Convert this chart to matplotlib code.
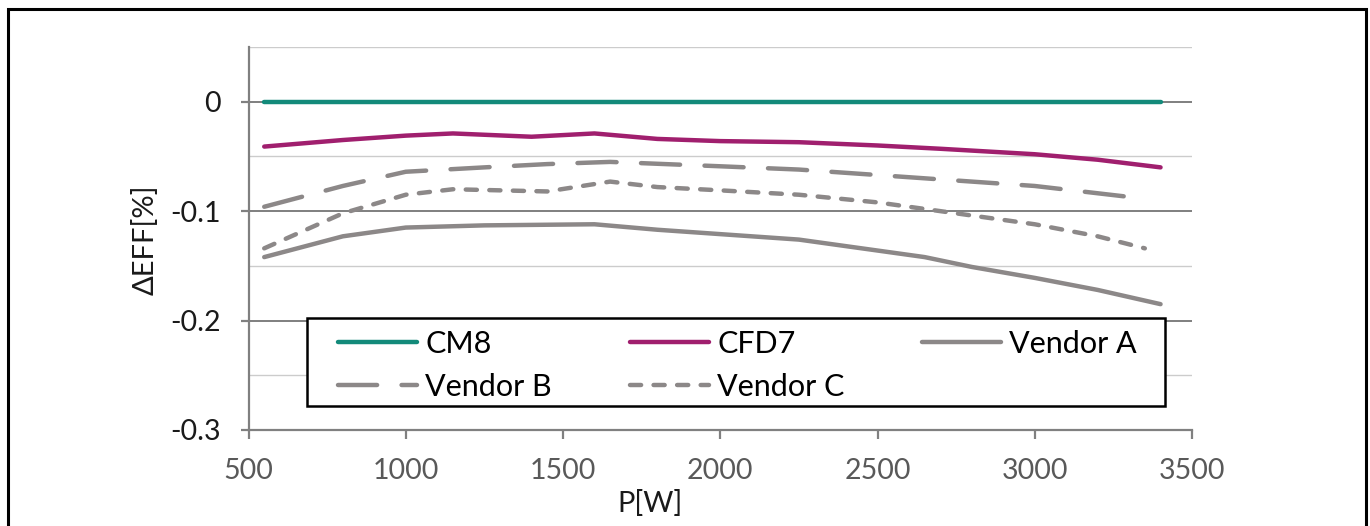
import matplotlib
matplotlib.use("Agg")
import matplotlib.pyplot as plt
from matplotlib.patches import Rectangle

plt.rcParams['font.family'] = ['Lato', 'DejaVu Sans']

# ---- data ----
p_cm8 = [550, 3400]
cm8 = [0.0, 0.0]

p_cfd7 = [550, 800, 1000, 1150, 1400, 1600, 1800, 2000, 2250, 2500, 2700, 3000, 3200, 3400]
cfd7 = [-0.041, -0.035, -0.031, -0.029, -0.032, -0.029, -0.034, -0.036, -0.037, -0.040, -0.043, -0.048, -0.053, -0.060]

p_va = [550, 800, 1000, 1250, 1600, 1800, 2000, 2250, 2500, 2650, 2800, 3000, 3200, 3400]
vendor_a = [-0.142, -0.123, -0.115, -0.113, -0.112, -0.117, -0.121, -0.126, -0.136, -0.142, -0.151, -0.161, -0.172, -0.185]

p_vb = [550, 800, 1000, 1250, 1450, 1650, 2000, 2250, 2500, 2700, 3000, 3300]
vendor_b = [-0.096, -0.077, -0.064, -0.060, -0.057, -0.055, -0.059, -0.062, -0.067, -0.071, -0.077, -0.087]

p_vc = [550, 800, 1000, 1150, 1300, 1450, 1650, 1800, 2000, 2250, 2500, 2700, 3000, 3200, 3350]
vendor_c = [-0.134, -0.102, -0.085, -0.080, -0.081, -0.082, -0.073, -0.078, -0.081, -0.085, -0.092, -0.100, -0.112, -0.123, -0.134]

x_ticks = [500, 1000, 1500, 2000, 2500, 3000, 3500]
y_ticks = [0, -0.1, -0.2, -0.3]
y_tick_labels = ['0', '-0.1', '-0.2', '-0.3']
y_minor = [0.05, -0.05, -0.15, -0.25]

teal = '#138a7a'
magenta = '#a01f6e'
gray = '#8c8888'

W, H = 1370, 526
fig = plt.figure(figsize=(W / 100, H / 100), dpi=100)
ax_l, ax_r, ax_t, ax_b = 248.5, 1192, 47, 430
ax = fig.add_axes([ax_l / W, 1 - ax_b / H, (ax_r - ax_l) / W, (ax_b - ax_t) / H])
aw, ah = ax_r - ax_l, ax_b - ax_t

lw = 3.2
h_cm8, = ax.plot(p_cm8, cm8, color=teal, lw=lw, solid_capstyle='round', label='CM8', zorder=5)
h_cfd7, = ax.plot(p_cfd7, cfd7, color=magenta, lw=lw, solid_capstyle='round', label='CFD7', zorder=5)
h_va, = ax.plot(p_va, vendor_a, color=gray, lw=lw, solid_capstyle='round', label='Vendor A', zorder=4)
h_vb, = ax.plot(p_vb, vendor_b, color=gray, lw=lw, dash_capstyle='round', label='Vendor B', zorder=4)
h_vb.set_dashes((8.8, 5.5))
h_vc, = ax.plot(p_vc, vendor_c, color=gray, lw=lw, dash_capstyle='round', label='Vendor C', zorder=4)
h_vc.set_dashes((2.5, 2.8))

ax.set_xlim(500, 3500)
ax.set_ylim(-0.3, 0.05)

for y in y_minor:
    ax.axhline(y, color='#cccccc', lw=1.0, zorder=1)
for y in y_ticks[:-1]:
    ax.axhline(y, color='#7f7f7f', lw=1.4, zorder=1)

for s in ['top', 'right']:
    ax.spines[s].set_visible(False)
for s in ['left', 'bottom']:
    ax.spines[s].set_color('#808080')
    ax.spines[s].set_linewidth(1.6)

ax.set_xticks(x_ticks)
ax.set_yticks(y_ticks)
ax.set_yticklabels(y_tick_labels)
ax.tick_params(axis='y', length=6, width=1.6, color='#808080', pad=14,
               labelsize=20.5, labelcolor='#1a1a1a')
ax.tick_params(axis='x', length=6.5, width=1.6, color='#808080', pad=14,
               labelsize=20.5, labelcolor='#595959')

ax.set_ylabel('ΔEFF[%]', fontsize=21, color='#1a1a1a', ha='center', va='center')
ax.yaxis.set_label_coords((145 - ax_l) / aw, (ax_b - 240) / ah)
ax.set_xlabel('P[W]', fontsize=21, color='#1a1a1a', ha='center', va='center')
ax.xaxis.set_label_coords((650 - ax_l) / aw, (ax_b - 503) / ah)

# legend frame (drawn separately) and entries, row-major order
fx0, fx1, fy0, fy1 = 307, 1165, 318, 406
ax.add_patch(Rectangle(((fx0 - ax_l) / aw, (ax_b - fy1) / ah), (fx1 - fx0) / aw, (fy1 - fy0) / ah,
                       transform=ax.transAxes, facecolor='white', edgecolor='black',
                       lw=1.8, zorder=9, clip_on=False))
handles = [h_cm8, h_vb, h_cfd7, h_vc, h_va]
labels = [h.get_label() for h in handles]
lx0, lx1, ltop = 338, 1137, 334
leg = ax.legend(handles, labels, ncol=3, loc='upper left', mode='expand',
                bbox_to_anchor=((lx0 - ax_l) / aw, (ax_b - ltop) / ah, (lx1 - lx0) / aw, 0.01),
                borderaxespad=0, borderpad=0, fontsize=22, handlelength=2.6,
                handletextpad=0.26, labelspacing=0.48, frameon=False)
leg.set_zorder(10)

fig.patches.append(Rectangle((7.5 / W, -0.05), (1366 - 7.5) / W, 1.05 - 9.5 / H,
                             transform=fig.transFigure, fill=False,
                             edgecolor='black', lw=2.2, clip_on=False))

fig.savefig('out.png', dpi=100)
